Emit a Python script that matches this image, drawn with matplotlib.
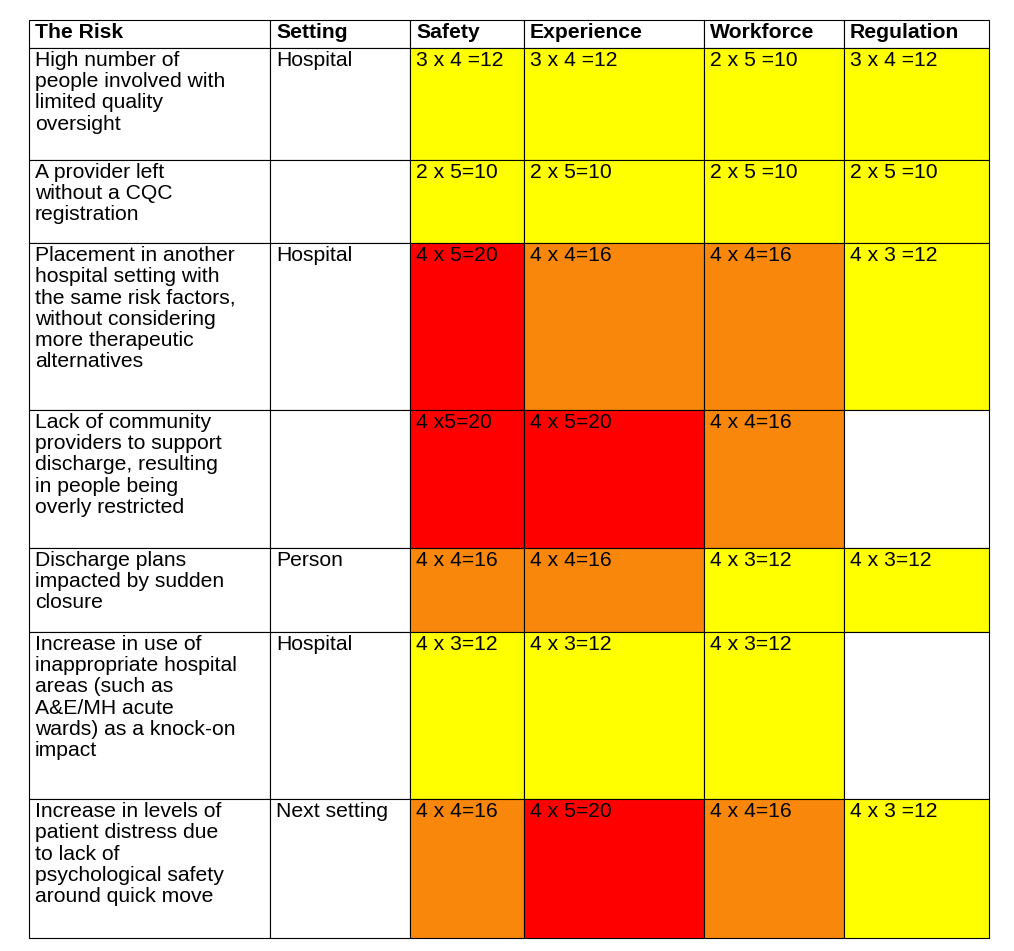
import matplotlib.pyplot as plt
from matplotlib.patches import Rectangle

headers = ["The Risk", "Setting", "Safety", "Experience", "Workforce", "Regulation"]
risks = [
    "High number of\npeople involved with\nlimited quality\noversight",
    "A provider left\nwithout a CQC\nregistration",
    "Placement in another\nhospital setting with\nthe same risk factors,\nwithout considering\nmore therapeutic\nalternatives",
    "Lack of community\nproviders to support\ndischarge, resulting\nin people being\noverly restricted",
    "Discharge plans\nimpacted by sudden\nclosure",
    "Increase in use of\ninappropriate hospital\nareas (such as\nA&E/MH acute\nwards) as a knock-on\nimpact",
    "Increase in levels of\npatient distress due\nto lack of\npsychological safety\naround quick move",
]
settings = ["Hospital", "", "Hospital", "", "Person", "Hospital", "Next setting"]
scores = [
    ["3 x 4 =12", "3 x 4 =12", "2 x 5 =10", "3 x 4 =12"],
    ["2 x 5=10", "2 x 5=10", "2 x 5 =10", "2 x 5 =10"],
    ["4 x 5=20", "4 x 4=16", "4 x 4=16", "4 x 3 =12"],
    ["4 x5=20", "4 x 5=20", "4 x 4=16", ""],
    ["4 x 4=16", "4 x 4=16", "4 x 3=12", "4 x 3=12"],
    ["4 x 3=12", "4 x 3=12", "4 x 3=12", ""],
    ["4 x 4=16", "4 x 5=20", "4 x 4=16", "4 x 3 =12"],
]

col_edges = [29, 270, 410, 524, 704, 844, 989]
row_edges = [20, 48, 160, 243, 410, 548, 632, 799, 938]


def score_color(s):
    if not s:
        return "white"
    v = int(s.split("=")[-1])
    if v >= 20:
        return "#FF0000"
    if v >= 15:
        return "#F8870B"
    return "#FFFF00"


plt.rcParams["font.family"] = "Liberation Sans"
fig = plt.figure(figsize=(10.14, 9.51), dpi=100)
ax = fig.add_axes([0, 0, 1, 1])
ax.set_xlim(0, 1014)
ax.set_ylim(951, 0)
ax.axis("off")

fs = 15.2
lh = 1.15

def cell(r, c, text, color="white", bold=False):
    x0, x1 = col_edges[c], col_edges[c + 1]
    y0, y1 = row_edges[r], row_edges[r + 1]
    ax.add_patch(Rectangle((x0, y0), x1 - x0, y1 - y0, facecolor=color,
                           edgecolor="black", linewidth=0.8))
    ax.text(x0 + 6, y0 + 3, text, ha="left", va="top", fontsize=fs,
            fontweight="bold" if bold else "normal", linespacing=lh)

for c, h in enumerate(headers):
    cell(0, c, h, bold=True)

for i in range(len(risks)):
    cell(i + 1, 0, risks[i])
    cell(i + 1, 1, settings[i])
    for j, s in enumerate(scores[i]):
        cell(i + 1, j + 2, s, score_color(s))

fig.savefig("out.png", dpi=100, facecolor="white")
